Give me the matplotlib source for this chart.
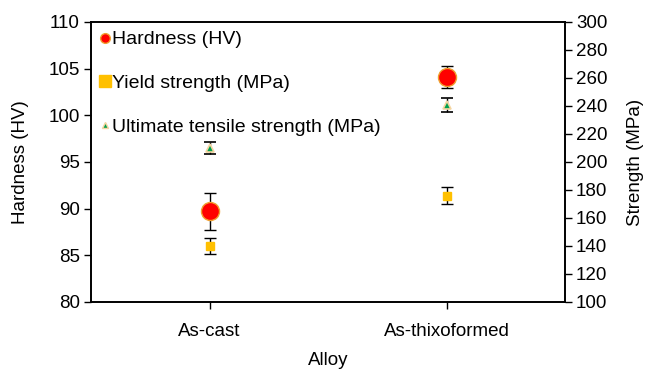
import matplotlib
matplotlib.use('Agg')
import matplotlib.pyplot as plt

plt.rcParams['font.family'] = ['Liberation Sans', 'DejaVu Sans']
plt.rcParams['font.size'] = 13.5

alloys = ['As-cast', 'As-thixoformed']
hardness = [89.7, 104.1]
hardness_err = [2.0, 1.2]
yield_str = [140, 176]
yield_err = [5.5, 6.0]
uts = [210, 241]
uts_err = [4.0, 5.0]

fig = plt.figure(figsize=(6.5, 3.73), dpi=100)
ax = fig.add_axes([91/650, 1-302/373, 474/650, 280/373])
ax2 = ax.twinx()

x = range(len(alloys))

ax.errorbar(x, hardness, yerr=hardness_err, fmt='o', ms=13, mfc='#ff0000', mec='#f0a030',
            ecolor='black', elinewidth=1, capsize=4.5, capthick=1, zorder=3)
ax2.errorbar(x, yield_str, yerr=yield_err, fmt='s', ms=5.5, mfc='#ffc000', mec='#ffc000',
             ecolor='black', elinewidth=1, capsize=4.5, capthick=1)
ax2.errorbar(x, uts, yerr=uts_err, fmt='^', ms=6, mfc='#00a050', mec='#f5d5a0', mew=1.2,
             ecolor='black', elinewidth=1, capsize=4.5, capthick=1)

ax.set_xlim(-0.5, 1.5)
ax.set_ylim(80, 110)
ax.set_yticks(range(80, 111, 5))
ax2.set_ylim(100, 300)
ax2.set_yticks(range(100, 301, 20))
ax.set_xticks(list(x))
ax.set_xticklabels(alloys)
ax.set_xlabel('Alloy', labelpad=9)
ax.set_ylabel('Hardness (HV)', labelpad=14)
ax2.set_ylabel('Strength (MPa)', labelpad=14)

for a in (ax, ax2):
    a.tick_params(direction='out', length=5, width=1, pad=3)
    for s in a.spines.values():
        s.set_linewidth(1.2)
ax.tick_params(axis='x', pad=10)

# legend handles without error bars
lh = ax.plot([], [], 'o', ms=7, mfc='#ff0000', mec='#f0a030')[0]
ly = ax.plot([], [], 's', ms=8, mfc='#ffc000', mec='#ffc000')[0]
lu = ax.plot([], [], '^', ms=5, mfc='#00a050', mec='#f5d5a0')[0]
ax2.legend([lh, ly, lu], ['Hardness (HV)', 'Yield strength (MPa)', 'Ultimate tensile strength (MPa)'],
           loc='upper left', frameon=False, fontsize=14, handlelength=0.5, handletextpad=0.15,
           labelspacing=1.35, borderaxespad=0.0, borderpad=0.45)

fig.savefig('out.png', dpi=100)
